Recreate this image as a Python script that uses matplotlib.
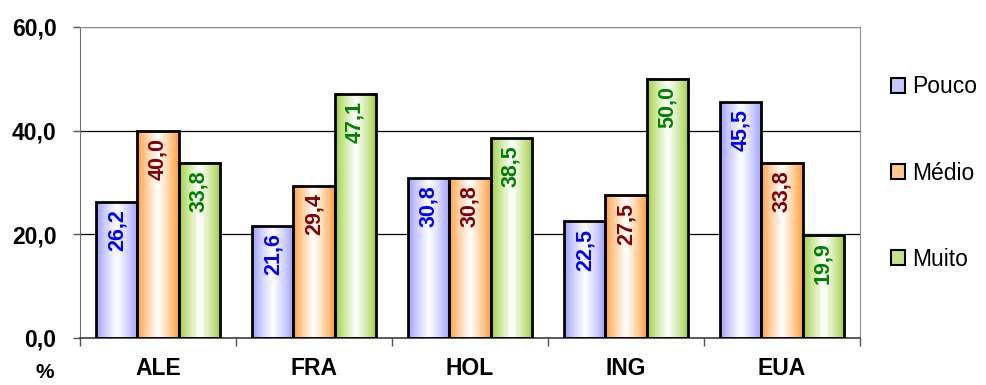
import numpy as np
import matplotlib
matplotlib.use("Agg")
import matplotlib.pyplot as plt
from matplotlib.patches import Rectangle, Patch
from matplotlib.colors import to_rgb

# dados
paises = ["ALE", "FRA", "HOL", "ING", "EUA"]
pouco = [26.2, 21.6, 30.8, 22.5, 45.5]
medio = [40.0, 29.4, 30.8, 27.5, 33.8]
muito = [33.8, 47.1, 38.5, 50.0, 19.9]
series_nomes = ["Pouco", "Médio", "Muito"]
yticks = [0, 20, 40, 60]

plt.rcParams["font.family"] = ["Liberation Sans", "DejaVu Sans"]

cores_barra = ["#9999FF", "#FF9933", "#99CC33"]
cores_texto = ["#0000FF", "#800000", "#008000"]


def gradiente(cor, n=64):
    # cor nas bordas, branco perto do meio
    c = np.array(to_rgb(cor))
    t = np.linspace(0, 1, n)
    w = 1 - np.abs(t - 0.5) * 2
    w = w ** 0.8
    img = c[None, :] * (1 - w[:, None]) + w[:, None]
    return img[None, :, :]


fig = plt.figure(figsize=(9.86, 3.85), dpi=100)
ax = fig.add_axes([80 / 986, 1 - 338 / 385, 780 / 986, 311 / 385])

largura = 0.263
x = np.arange(len(paises))
for k, vals in enumerate([pouco, medio, muito]):
    img = gradiente(cores_barra[k])
    for i, v in enumerate(vals):
        x0 = x[i] + (k - 1) * largura - largura / 2
        ax.imshow(img, extent=[x0, x0 + largura, 0, v], aspect="auto",
                  interpolation="bilinear", zorder=2)
        ax.add_patch(Rectangle((x0, 0), largura, v, fill=False,
                               edgecolor="black", lw=2, zorder=3))
        ax.text(x0 + largura / 2, v - 1.4, f"{v:.1f}".replace(".", ","),
                rotation=90, ha="center", va="top", fontsize=15.5,
                fontweight="bold", color=cores_texto[k], zorder=4)

ax.set_xlim(-0.5, len(paises) - 0.5)
ax.set_ylim(0, 60)

ax.set_yticks(yticks)
ax.set_yticklabels([f"{t:.1f}".replace(".", ",") for t in yticks],
                   fontsize=16.5, fontweight="bold")
ax.yaxis.grid(True, color="black", lw=0.9, zorder=1)
ax.set_axisbelow(True)
ax.tick_params(axis="y", length=5, width=1, color="#555555", pad=12)

# marcas do eixo x entre categorias, rótulos no centro
ax.set_xticks(np.arange(len(paises) + 1) - 0.5)
ax.set_xticklabels([])
ax.set_xticks(x, minor=True)
ax.set_xticklabels(paises, minor=True, fontsize=16.5, fontweight="bold")
ax.tick_params(axis="x", which="major", length=6, width=1, color="#555555")
ax.tick_params(axis="x", which="minor", length=0, pad=14)

for s in ["top", "right"]:
    ax.spines[s].set_color("#909090")
ax.spines["left"].set_color("#707070")
ax.spines["bottom"].set_color("#404040")
ax.spines["bottom"].set_linewidth(1.2)

fig.text(45 / 986, 1 - 373 / 385, "%", ha="center", va="center",
         fontsize=15, fontweight="bold")

handles = [Patch(facecolor=cores_barra[k], edgecolor="black", lw=1.5)
           for k in range(3)]
for h, c in zip(handles, cores_barra):
    rgb = np.array(to_rgb(c))
    h.set_facecolor(rgb * 0.55 + 0.45)
fig.legend(handles, series_nomes, loc="center left",
           bbox_to_anchor=(891 / 986, 1 - 173 / 385), frameon=False,
           borderpad=0, borderaxespad=0,
           fontsize=16.5, handlelength=0.6, handleheight=0.6,
           handletextpad=0.3, labelspacing=2.75)

fig.savefig("out.png", dpi=100)
